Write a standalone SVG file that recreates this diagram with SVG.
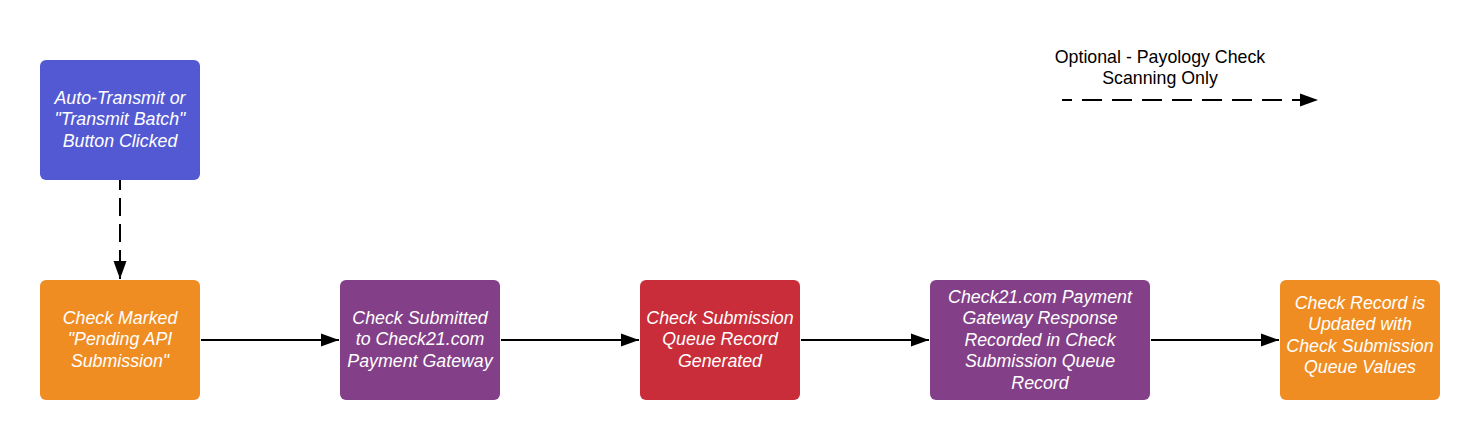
<svg xmlns="http://www.w3.org/2000/svg" width="1480" height="440" viewBox="0 0 1480 440">
<defs>
<style>
.nt{font-family:"Liberation Sans",Arial,sans-serif;font-size:17.8px;font-style:italic;fill:#ffffff;text-anchor:middle}
.lt{font-family:"Liberation Sans",Arial,sans-serif;font-size:17.8px;fill:#000000;text-anchor:middle}
.c{fill:none;stroke:#000000;stroke-width:2}
.dv{stroke-dasharray:18 8;stroke-dashoffset:8}
.dh{stroke-dasharray:20 10;stroke-dashoffset:10}
</style>
<marker id="ah" markerWidth="20" markerHeight="14" refX="18" refY="7" orient="auto" markerUnits="userSpaceOnUse">
<path d="M0,0.5 L18,7 L0,13.5 Z" fill="#000"/>
</marker>
</defs>
<rect width="1480" height="440" fill="#ffffff"/>
<g id="connectors">
<path class="c dv" d="M120,180 V279" marker-end="url(#ah)"/>
<path class="c" d="M201,340 H339" marker-end="url(#ah)"/>
<path class="c" d="M501,340 H639" marker-end="url(#ah)"/>
<path class="c" d="M801,340 H929" marker-end="url(#ah)"/>
<path class="c" d="M1151,340 H1279" marker-end="url(#ah)"/>
</g>
<g id="legend">
<text class="lt" x="1160" y="62.5">Optional - Payology Check</text>
<text class="lt" x="1160" y="84">Scanning Only</text>
<path class="c dh" d="M1062,100 H1318" marker-end="url(#ah)"/>
</g>
<g id="n1">
<rect x="40" y="60" width="160" height="120" rx="6" fill="#5359d3"/>
<text class="nt" x="120" y="103.5">Auto-Transmit or</text>
<text class="nt" x="120" y="125">"Transmit Batch"</text>
<text class="nt" x="120" y="146.5">Button Clicked</text>
</g>
<g id="n2">
<rect x="40" y="280" width="160" height="120" rx="6" fill="#ef8d22"/>
<text class="nt" x="120" y="323.5">Check Marked</text>
<text class="nt" x="120" y="345">"Pending API</text>
<text class="nt" x="120" y="366.5">Submission"</text>
</g>
<g id="n3">
<rect x="340" y="280" width="160" height="120" rx="6" fill="#833f87"/>
<text class="nt" x="420" y="323.5">Check Submitted</text>
<text class="nt" x="420" y="345">to Check21.com</text>
<text class="nt" x="420" y="366.5">Payment Gateway</text>
</g>
<g id="n4">
<rect x="640" y="280" width="160" height="120" rx="6" fill="#c92d39"/>
<text class="nt" x="720" y="323.5">Check Submission</text>
<text class="nt" x="720" y="345">Queue Record</text>
<text class="nt" x="720" y="366.5">Generated</text>
</g>
<g id="n5">
<rect x="930" y="280" width="220" height="120" rx="6" fill="#833f87"/>
<text class="nt" x="1040" y="302.5">Check21.com Payment</text>
<text class="nt" x="1040" y="324">Gateway Response</text>
<text class="nt" x="1040" y="345.5">Recorded in Check</text>
<text class="nt" x="1040" y="367">Submission Queue</text>
<text class="nt" x="1040" y="388.5">Record</text>
</g>
<g id="n6">
<rect x="1280" y="280" width="160" height="120" rx="6" fill="#ef8d22"/>
<text class="nt" x="1360" y="308.5">Check Record is</text>
<text class="nt" x="1360" y="330">Updated with</text>
<text class="nt" x="1360" y="351.5">Check Submission</text>
<text class="nt" x="1360" y="373">Queue Values</text>
</g>
</svg>
